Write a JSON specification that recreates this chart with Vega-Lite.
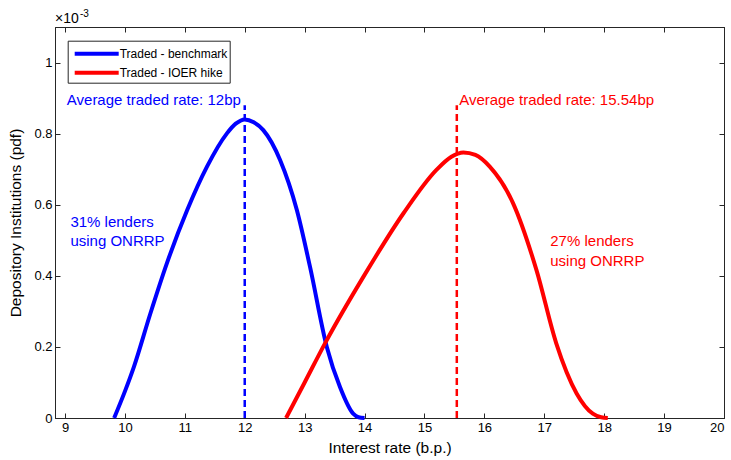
{
  "$schema": "https://vega.github.io/schema/vega-lite/v6.json",
  "width": 669,
  "height": 391,
  "autosize": {"type": "none"},
  "padding": {"left": 55, "top": 27, "right": 7, "bottom": 42},
  "config": {
    "font": "Liberation Sans",
    "view": {"stroke": "#262626", "strokeWidth": 1},
    "axis": {
      "domainColor": "#262626",
      "tickColor": "#262626",
      "labelColor": "#000000",
      "titleColor": "#000000",
      "labelFont": "Liberation Sans",
      "titleFont": "Liberation Sans",
      "labelFontSize": 13,
      "titleFontSize": 15.5,
      "titleFontWeight": "normal",
      "grid": false,
      "tickSize": -5
    }
  },
  "datasets": {
    "curves": [
      {"series": "Traded - benchmark", "rate": 9.82, "pdf": 0},
      {"series": "Traded - benchmark", "rate": 10.0, "pdf": 0.075},
      {"series": "Traded - benchmark", "rate": 10.15, "pdf": 0.144},
      {"series": "Traded - benchmark", "rate": 10.425, "pdf": 0.294},
      {"series": "Traded - benchmark", "rate": 10.7, "pdf": 0.435},
      {"series": "Traded - benchmark", "rate": 11.04, "pdf": 0.585},
      {"series": "Traded - benchmark", "rate": 11.37, "pdf": 0.707},
      {"series": "Traded - benchmark", "rate": 11.7, "pdf": 0.8},
      {"series": "Traded - benchmark", "rate": 11.85, "pdf": 0.828},
      {"series": "Traded - benchmark", "rate": 12.0, "pdf": 0.84},
      {"series": "Traded - benchmark", "rate": 12.15, "pdf": 0.832},
      {"series": "Traded - benchmark", "rate": 12.31, "pdf": 0.81},
      {"series": "Traded - benchmark", "rate": 12.59, "pdf": 0.726},
      {"series": "Traded - benchmark", "rate": 12.87, "pdf": 0.585},
      {"series": "Traded - benchmark", "rate": 13.09, "pdf": 0.425},
      {"series": "Traded - benchmark", "rate": 13.37, "pdf": 0.2},
      {"series": "Traded - benchmark", "rate": 13.59, "pdf": 0.087},
      {"series": "Traded - benchmark", "rate": 13.81, "pdf": 0.012},
      {"series": "Traded - benchmark", "rate": 13.9, "pdf": 0.002},
      {"series": "Traded - benchmark", "rate": 14.0, "pdf": 0},
      {"series": "Traded - IOER hike", "rate": 12.69, "pdf": 0},
      {"series": "Traded - IOER hike", "rate": 13.0, "pdf": 0.1},
      {"series": "Traded - IOER hike", "rate": 13.34, "pdf": 0.21},
      {"series": "Traded - IOER hike", "rate": 13.98, "pdf": 0.397},
      {"series": "Traded - IOER hike", "rate": 14.65, "pdf": 0.576},
      {"series": "Traded - IOER hike", "rate": 15.2, "pdf": 0.698},
      {"series": "Traded - IOER hike", "rate": 15.45, "pdf": 0.735},
      {"series": "Traded - IOER hike", "rate": 15.65, "pdf": 0.747},
      {"series": "Traded - IOER hike", "rate": 15.85, "pdf": 0.74},
      {"series": "Traded - IOER hike", "rate": 16.09, "pdf": 0.707},
      {"series": "Traded - IOER hike", "rate": 16.48, "pdf": 0.604},
      {"series": "Traded - IOER hike", "rate": 16.87, "pdf": 0.416},
      {"series": "Traded - IOER hike", "rate": 17.2, "pdf": 0.21},
      {"series": "Traded - IOER hike", "rate": 17.54, "pdf": 0.069},
      {"series": "Traded - IOER hike", "rate": 17.81, "pdf": 0.012},
      {"series": "Traded - IOER hike", "rate": 17.95, "pdf": 0.002},
      {"series": "Traded - IOER hike", "rate": 18.06, "pdf": 0}
    ],
    "means": [
      {"series": "Traded - benchmark", "rate": 12.0, "base": 0, "top": 0.88},
      {"series": "Traded - IOER hike", "rate": 15.54, "base": 0, "top": 0.88}
    ],
    "notes": [
      {"series": "Traded - benchmark", "rate": 9.03, "pdf": 0.895, "label": "Average traded rate: 12bp"},
      {"series": "Traded - IOER hike", "rate": 15.58, "pdf": 0.895, "label": "Average traded rate: 15.54bp"},
      {"series": "Traded - benchmark", "rate": 9.09, "pdf": 0.552, "label": "31% lenders"},
      {"series": "Traded - benchmark", "rate": 9.09, "pdf": 0.498, "label": "using ONRRP"},
      {"series": "Traded - IOER hike", "rate": 17.1, "pdf": 0.498, "label": "27% lenders"},
      {"series": "Traded - IOER hike", "rate": 17.1, "pdf": 0.441, "label": "using ONRRP"}
    ],
    "corner": [
      {"rate": 8.833, "pdf": 1.1, "label": "×10", "power": "-3"}
    ]
  },
  "layer": [
    {
      "data": {"name": "curves"},
      "mark": {"type": "line", "strokeWidth": 4, "interpolate": "monotone"},
      "encoding": {
        "x": {
          "field": "rate", "type": "quantitative",
          "scale": {"domain": [8.833, 20], "nice": false, "zero": false},
          "axis": {"values": [9, 10, 11, 12, 13, 14, 15, 16, 17, 18, 19, 20], "title": "Interest rate (b.p.)", "labelPadding": 8, "titlePadding": 6}
        },
        "y": {
          "field": "pdf", "type": "quantitative",
          "scale": {"domain": [0, 1.1], "nice": false},
          "axis": {"values": [0, 0.2, 0.4, 0.6, 0.8, 1], "format": "~g", "title": "Depository Institutions (pdf)", "labelPadding": 8, "titlePadding": 10}
        },
        "color": {
          "field": "series", "type": "nominal",
          "scale": {"domain": ["Traded - benchmark", "Traded - IOER hike"], "range": ["#0000ff", "#ff0000"]},
          "legend": {
            "title": null,
            "orient": "none",
            "legendX": 12.7,
            "legendY": 13.7,
            "direction": "vertical",
            "fillColor": "#ffffff",
            "strokeColor": "#262626",
            "padding": 2,
            "rowPadding": 0,
            "symbolType": "M-2.444,0H2.444",
            "symbolSize": 324,
            "symbolStrokeWidth": 4,
            "symbolOffset": 16,
            "labelOffset": 12,
            "labelFontSize": 12,
            "labelColor": "#000000",
            "labelFont": "Liberation Sans"
          }
        }
      }
    },
    {
      "data": {"name": "means"},
      "mark": {"type": "rule", "strokeWidth": 2.5, "strokeDash": [7, 4]},
      "encoding": {
        "x": {"field": "rate", "type": "quantitative", "axis": {"orient": "top", "values": [9, 10, 11, 12, 13, 14, 15, 16, 17, 18, 19, 20], "labels": false, "title": null}},
        "y": {"field": "base", "type": "quantitative", "axis": {"orient": "right", "values": [0, 0.2, 0.4, 0.6, 0.8, 1], "labels": false, "title": null}},
        "y2": {"field": "top"},
        "color": {"field": "series", "type": "nominal", "legend": null}
      }
    },
    {
      "data": {"name": "notes"},
      "mark": {"type": "text", "align": "left", "baseline": "middle", "fontSize": 15, "font": "Liberation Sans"},
      "encoding": {
        "x": {"field": "rate", "type": "quantitative", "axis": null},
        "y": {"field": "pdf", "type": "quantitative", "axis": null},
        "text": {"field": "label", "type": "nominal"},
        "color": {"field": "series", "type": "nominal", "legend": null}
      }
    },
    {
      "data": {"name": "corner"},
      "mark": {"type": "text", "align": "left", "baseline": "bottom", "dy": -1, "fontSize": 14, "font": "Liberation Sans", "color": "#000000"},
      "encoding": {
        "x": {"field": "rate", "type": "quantitative", "axis": null},
        "y": {"field": "pdf", "type": "quantitative", "axis": null},
        "text": {"field": "label", "type": "nominal"}
      }
    },
    {
      "data": {"name": "corner"},
      "mark": {"type": "text", "align": "left", "baseline": "bottom", "dx": 25, "dy": -8, "fontSize": 10, "font": "Liberation Sans", "color": "#000000"},
      "encoding": {
        "x": {"field": "rate", "type": "quantitative", "axis": null},
        "y": {"field": "pdf", "type": "quantitative", "axis": null},
        "text": {"field": "power", "type": "nominal"}
      }
    }
  ],
  "resolve": {"axis": {"x": "independent", "y": "independent"}}
}
